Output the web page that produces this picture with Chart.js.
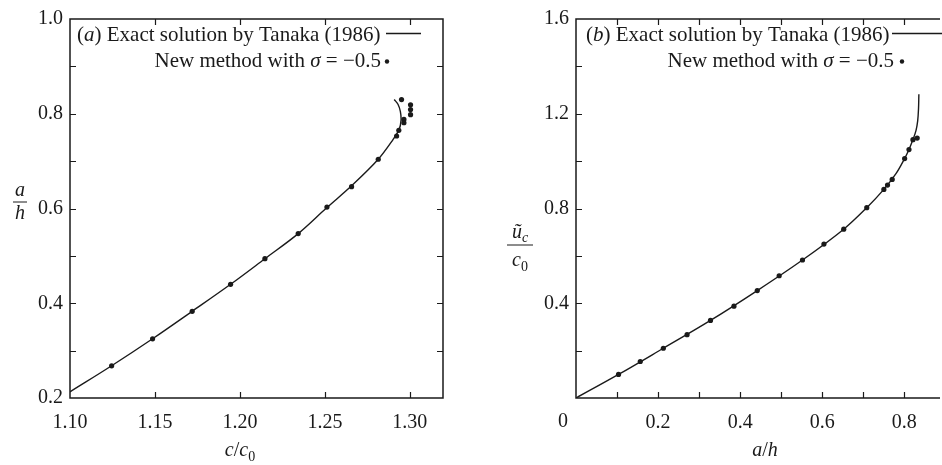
<!DOCTYPE html>
<html>
<head>
<meta charset="utf-8">
<script src="https://cdn.jsdelivr.net/npm/chart.js@4"></script>
<style>
  html, body { margin: 0; padding: 0; background: #fff; }
  #wrap { position: relative; width: 942px; height: 465px; overflow: hidden; }
  .panel { position: absolute; top: 0; width: 471px; height: 465px; }
</style>
</head>
<body>
<div id="wrap">
  <div class="panel" style="left:0"><canvas id="chartA" width="471" height="465"></canvas></div>
  <div class="panel" style="left:471px"><canvas id="chartB" width="471" height="465"></canvas></div>
</div>
<script>
// panel (a): a/h against c/c0
const exactA_c = [1.100, 1.1245, 1.1486, 1.1719, 1.1945, 1.2147, 1.2343, 1.2512, 1.2657, 1.2814, 1.2900, 1.2937, 1.2948, 1.2944, 1.2930, 1.2908];
const exactA_a = [0.213, 0.268, 0.325, 0.383, 0.440, 0.494, 0.547, 0.602, 0.648, 0.704, 0.745, 0.767, 0.786, 0.805, 0.820, 0.830];
const newA_c = [1.1245, 1.1486, 1.1719, 1.1945, 1.2147, 1.2343, 1.2512, 1.2657, 1.2814, 1.2922, 1.2935, 1.2951, 1.2965, 1.2965, 1.3004, 1.3004, 1.3004];
const newA_a = [0.268, 0.325, 0.383, 0.440, 0.494, 0.547, 0.603, 0.646, 0.704, 0.753, 0.765, 0.830, 0.788, 0.781, 0.819, 0.809, 0.798];
const labelsA_x = [1.10, 1.15, 1.20, 1.25, 1.30];
const labelsA_y = [0.2, 0.4, 0.6, 0.8, 1.0];
const marksA_x = [1.15, 1.20, 1.25, 1.30];
const marksA_y = [0.3, 0.4, 0.5, 0.6, 0.7, 0.8, 0.9];

// panel (b): u_c/c0 against a/h
const exactB_a = [0, 0.1036, 0.2128, 0.3277, 0.4417, 0.5518, 0.6523, 0.7084, 0.7501, 0.7800, 0.8007, 0.8113, 0.8210, 0.8285, 0.8325, 0.8345, 0.8354];
const exactB_u = [0, 0.0995, 0.210, 0.3276, 0.4536, 0.5825, 0.7127, 0.8034, 0.8807, 0.948, 1.011, 1.049, 1.091, 1.130, 1.170, 1.220, 1.282];
const newB_a = [0.1036, 0.1566, 0.2128, 0.2706, 0.3277, 0.3848, 0.4417, 0.4950, 0.5518, 0.6041, 0.6523, 0.7084, 0.7501, 0.7590, 0.7704, 0.8007, 0.8113, 0.8210, 0.8313];
const newB_u = [0.0995, 0.154, 0.210, 0.2675, 0.3276, 0.3876, 0.4536, 0.516, 0.5825, 0.6497, 0.7127, 0.8034, 0.8807, 0.8988, 0.9227, 1.0109, 1.0487, 1.0907, 1.0974];
const labelsB_x = [0, 0.2, 0.4, 0.6, 0.8];
const labelsB_y = [0.4, 0.8, 1.2, 1.6];
const marksB_x = [0.1, 0.2, 0.3, 0.4, 0.5, 0.6, 0.7, 0.8];
const marksB_y = [0.2, 0.4, 0.6, 0.8, 1.0, 1.2, 1.4];

const FONT = "'Liberation Serif', 'Times New Roman', serif";
const INK = '#1a1a1a';

function zip(xs, ys) {
    return xs.map((x, i) => ({ x: x, y: ys[i] }));
}

function fontOf(run) {
    return (run[1] ? 'italic ' : '') + (run[2] || 20) + 'px ' + FONT;
}

// draws pieces of text (some italic / subscript) one after another
function drawRuns(ctx, runs, x, y, align) {
    const widths = runs.map(r => { ctx.font = fontOf(r); return ctx.measureText(r[0]).width; });
    const total = widths.reduce((a, b) => a + b, 0);
    let cx = align === 'right' ? x - total : align === 'center' ? x - total / 2 : x;
    ctx.textAlign = 'left';
    ctx.textBaseline = 'alphabetic';
    runs.forEach((r, i) => {
        ctx.font = fontOf(r);
        ctx.fillText(r[0], cx, y + (r[3] || 0));
        cx += widths[i];
    });
}

const decor = {
    id: 'decor',
    afterDraw(chart) {
        const cfg = chart.options.plugins.decor;
        const ctx = chart.ctx;
        const { left, right, top, bottom } = chart.chartArea;
        const sx = chart.scales.x, sy = chart.scales.y;
        ctx.save();
        ctx.strokeStyle = INK;
        ctx.fillStyle = INK;

        // frame
        ctx.lineWidth = 1.5;
        ctx.beginPath();
        ctx.moveTo(right + (cfg.rightSide ? 0 : 2), top);
        ctx.lineTo(left, top);
        ctx.lineTo(left, bottom);
        ctx.lineTo(right + (cfg.rightSide ? 0 : 2), bottom);
        if (cfg.rightSide) ctx.closePath();
        ctx.stroke();

        // inward tick marks
        ctx.lineWidth = 1.2;
        ctx.beginPath();
        cfg.marksX.forEach(v => {
            const px = Math.round(sx.getPixelForValue(v)) + 0.5;
            ctx.moveTo(px, bottom); ctx.lineTo(px, bottom - 6);
            ctx.moveTo(px, top); ctx.lineTo(px, top + 6);
        });
        cfg.marksY.forEach(v => {
            const py = Math.round(sy.getPixelForValue(v)) + 0.5;
            ctx.moveTo(left, py); ctx.lineTo(left + 6, py);
            if (cfg.rightSide) { ctx.moveTo(right, py); ctx.lineTo(right - 6, py); }
        });
        ctx.stroke();

        // corner zero
        if (cfg.cornerZero) {
            ctx.font = '20px ' + FONT;
            ctx.textAlign = 'center';
            ctx.textBaseline = 'alphabetic';
            ctx.fillText('0', sx.getPixelForValue(0) - 13, bottom + 29);
        }

        // legend
        const lg = cfg.legend;
        drawRuns(ctx, [['(', false, 21], [lg.tag, true, 21], [') Exact solution by Tanaka (1986)', false, 21]], lg.textLeft, 41, 'left');
        ctx.lineWidth = 1.3;
        ctx.beginPath();
        ctx.moveTo(lg.lineFrom, 33.5);
        ctx.lineTo(lg.lineTo, 33.5);
        ctx.stroke();
        drawRuns(ctx, [['New method with ', false, 21], ['σ', true, 21], [' = −0.5', false, 21]], lg.row2Right, 67, 'right');
        ctx.beginPath();
        ctx.arc(lg.dotX, 61.5, 2.2, 0, Math.PI * 2);
        ctx.fill();

        // axis titles
        drawRuns(ctx, cfg.xTitle, cfg.xTitleX, 456, 'center');
        const yt = cfg.yTitle;
        drawRuns(ctx, yt.top, yt.x, yt.topBase, 'center');
        ctx.lineWidth = 1;
        ctx.beginPath();
        ctx.moveTo(yt.x - yt.bar / 2, yt.barY);
        ctx.lineTo(yt.x + yt.bar / 2, yt.barY);
        ctx.stroke();
        drawRuns(ctx, yt.bottom, yt.x, yt.bottomBase, 'center');
        ctx.restore();
    }
};

function makeOptions(p) {
    return {
        responsive: false,
        animation: false,
        devicePixelRatio: 1,
        layout: { padding: { top: 17, right: p.padRight, left: 0, bottom: 0 } },
        plugins: {
            legend: { display: false },
            tooltip: { enabled: false },
            decor: p.decor
        },
        scales: {
            x: {
                type: 'linear',
                min: p.xMin,
                max: p.xMax,
                grid: { display: false, drawTicks: false },
                border: { display: false },
                afterBuildTicks: s => { s.ticks = p.labelsX.map(v => ({ value: v })); },
                afterFit: s => { s.height = 67; },
                ticks: {
                    padding: 13,
                    color: INK,
                    font: { family: FONT, size: 20 },
                    callback: p.xFormat
                }
            },
            y: {
                type: 'linear',
                min: p.yMin,
                max: p.yMax,
                grid: { display: false, drawTicks: false },
                border: { display: false },
                afterBuildTicks: s => { s.ticks = p.labelsY.map(v => ({ value: v })); },
                afterFit: s => { s.width = p.yWidth; },
                ticks: {
                    padding: 7,
                    color: INK,
                    font: { family: FONT, size: 20 },
                    callback: v => v.toFixed(1)
                }
            }
        }
    };
}

function datasets(curve, dots) {
    return [
        {
            data: curve,
            showLine: true,
            borderColor: INK,
            borderWidth: 1.4,
            pointRadius: 0,
            tension: 0.35,
            fill: false
        },
        {
            data: dots,
            showLine: false,
            pointRadius: 2.6,
            backgroundColor: INK,
            borderWidth: 0
        }
    ];
}

new Chart(document.getElementById('chartA'), {
    type: 'scatter',
    data: { datasets: datasets(zip(exactA_c, exactA_a), zip(newA_c, newA_a)) },
    options: makeOptions({
        xMin: 1.10, xMax: 1.3195, yMin: 0.2, yMax: 1.0,
        labelsX: labelsA_x, labelsY: labelsA_y,
        xFormat: v => v.toFixed(2),
        yWidth: 70, padRight: 28,
        decor: {
            rightSide: true,
            marksX: marksA_x, marksY: marksA_y,
            cornerZero: false,
            legend: { tag: 'a', textLeft: 77, lineFrom: 386, lineTo: 421, row2Right: 381, dotX: 387 },
            xTitle: [['c', true], ['/', false], ['c', true], ['0', false, 14, 5]],
            xTitleX: 240,
            yTitle: {
                x: 20, bar: 14, barY: 202,
                top: [['a', true]], topBase: 196,
                bottom: [['h', true]], bottomBase: 219
            }
        }
    }),
    plugins: [decor]
});

new Chart(document.getElementById('chartB'), {
    type: 'scatter',
    data: { datasets: datasets(zip(exactB_a, exactB_u), zip(newB_a, newB_u)) },
    options: makeOptions({
        xMin: 0, xMax: 0.882, yMin: 0, yMax: 1.6,
        labelsX: labelsB_x, labelsY: labelsB_y,
        xFormat: v => (v === 0 ? '' : v.toFixed(1)),
        yWidth: 105, padRight: 0,
        decor: {
            rightSide: false,
            marksX: marksB_x, marksY: marksB_y,
            cornerZero: true,
            legend: { tag: 'b', textLeft: 115, lineFrom: 421, lineTo: 474, row2Right: 423, dotX: 431 },
            xTitle: [['a', true], ['/', false], ['h', true]],
            xTitleX: 294,
            yTitle: {
                x: 49, bar: 26, barY: 245,
                top: [['ũ', true], ['c', true, 14, 4]], topBase: 238,
                bottom: [['c', true], ['0', false, 14, 5]], bottomBase: 266
            }
        }
    }),
    plugins: [decor]
});
</script>
</body>
</html>
